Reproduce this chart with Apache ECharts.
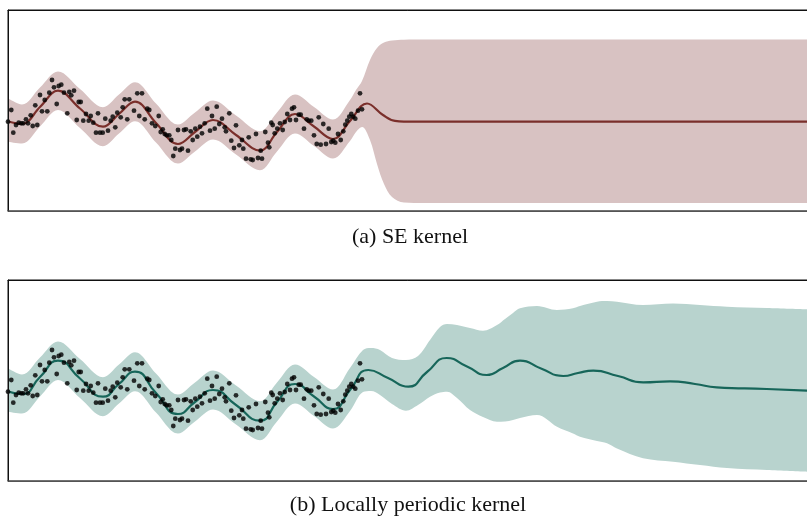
<!DOCTYPE html>
<html><head><meta charset="utf-8">
<script src="https://cdn.jsdelivr.net/npm/echarts@6/dist/echarts.min.js"></script>
<style>html,body{margin:0;padding:0;background:#fff}#c{width:807px;height:517px}</style>
</head><body><div id="c"></div>
<script>
// Observations (shared by both panels)
const dotX = [0.0,0.41,0.66,1.0,1.34,1.66,1.91,2.25,2.5,2.84,
 3.09,3.41,3.66,4.0,4.25,4.59,4.91,5.16,5.5,5.75,
 6.09,6.34,6.66,7.0,7.41,7.66,7.91,8.25,8.59,8.84,
 9.09,9.41,9.75,10.09,10.34,10.66,
 11.0,11.25,11.5,11.84,12.16,12.5,12.84,13.09,13.41,13.66,
 14.09,14.34,14.59,14.91,15.16,15.75,16.16,16.41,16.75,17.09,
 17.41,17.66,18.0,18.41,18.84,19.09,19.34,19.59,19.84,20.16,
 20.41,20.66,20.91,21.25,21.5,21.75,22.0,22.25,22.5,22.84,
 23.09,23.41,23.66,24.0,24.25,24.59,24.91,25.25,25.5,25.84,
 26.09,26.41,26.75,27.09,27.25,27.66,27.91,28.25,28.5,28.91,
 29.25,29.41,29.75,30.09,30.34,30.59,31.0,31.25,31.59,31.75,
 32.16,32.5,32.66,32.91,33.09,33.34,33.66,34.0,34.34,34.59,
 34.91,35.25,35.5,35.75,36.0,36.34,36.59,37.0,37.34,37.59,
 37.91,38.25,38.59,38.84,39.09,39.41,39.75,40.09,40.41,40.66,
 40.91,41.25,41.59,41.91,42.16,42.41,42.66,42.91,43.16,43.41,
 43.75,44.0,44.25];
const dotY = [-1.12,0.05,-2.22,-1.45,-1.22,-1.28,-1.28,-0.88,-1.28,-0.48,
 -1.55,0.52,-1.45,1.55,-0.08,1.05,-0.08,1.78,3.05,2.32,
 0.65,2.45,2.58,1.78,-0.28,1.85,1.52,1.98,-0.95,0.85,
 0.85,-1.02,-0.35,-1.02,-0.55,-1.22,
 -2.22,-0.28,-2.22,-2.22,-0.82,-2.02,-1.02,-0.62,-1.68,-0.22,
 -0.68,0.32,1.12,-0.88,1.12,-0.02,1.72,-0.55,1.72,-0.88,
 0.18,0.05,-1.28,-1.55,-0.55,-2.15,-1.88,-2.35,-2.48,-2.48,
 -2.95,-4.55,-3.82,-1.95,-3.95,-3.82,-1.95,-1.88,-4.02,-2.08,
 -2.95,-1.82,-2.62,-1.62,-2.28,-1.28,0.18,-2.02,-0.55,-1.82,
 0.38,-1.35,-0.82,-1.68,-2.08,-0.28,-3.02,-3.75,-1.48,-3.48,
 -2.95,-3.82,-4.82,-2.68,-4.88,-4.95,-2.35,-4.75,-4.02,-4.82,
 -2.15,-3.22,-3.68,-1.22,-1.45,-2.28,-1.82,-1.28,-1.95,-1.15,
 -0.35,-0.95,0.18,0.32,-0.95,-0.42,-0.42,-1.82,-0.88,-1.02,
 -1.02,-2.48,-3.35,-0.68,-3.42,-1.35,-3.35,-1.82,-3.15,-3.02,
 -3.22,-2.35,-2.95,-2.08,-1.42,-1.02,-0.62,-0.35,-0.62,-0.82,
 -0.02,1.72,0.12];

// Posterior mean, panel (a) SE kernel
const meanAX = [0,1.75,4.0,6.25,9.0,11.875,13.875,15.875,18.5,21.25,23.375,25.625,28.5,31.5,33.625,35.875,38.25,40.625,42.75,44.875,46.875,48.375,50.875,53.75,100];
const meanAY = [-1.1,-1.35,0.35,1.98,0.2,-1.62,-0.35,0.88,-1.25,-3.35,-2.15,-0.95,-2.45,-4.02,-2.15,-0.35,-1.6,-2.85,-1.05,0.7,-0.45,-1.03,-1.12,-1.12,-1.12];

// Posterior mean, panel (b) locally periodic kernel
const meanBX = [0,1.75,4.0,6.25,9.0,11.875,13.875,15.875,18.5,21.25,23.375,25.625,28.5,31.5,33.625,35.875,38.25,40.625,
 42.75,45.04,47.5,50.04,52.375,54.84,57.375,59.84,61.875,64.0,66.625,69.41,71.25,73.16,76.25,79.41,82.75,85.875,88.59,94.84,100];
const meanBY = [-1.1,-1.35,0.35,1.98,0.2,-1.62,-0.35,0.88,-1.25,-3.35,-2.15,-0.95,-2.45,-4.02,-2.15,-0.35,-1.6,-2.85,
 -0.95,1.05,0.25,-0.62,0.85,2.25,1.4,0.55,1.25,1.98,1.2,0.45,0.75,0.98,0.45,-0.18,-0.08,-0.35,-0.68,-0.85,-1.02];

// Confidence band inside the observed range (both panels)
const bandDataX  = [0,1.75,4.0,6.25,9.0,11.875,13.875,15.875,18.5,21.25,23.375,25.625,28.5,31.5,33.625,35.875,38.25,40.625];
const bandDataLo = [-3.12,-3.3,-1.6,0.05,-1.75,-3.57,-2.3,-1.07,-3.2,-5.3,-4.1,-2.9,-4.4,-5.97,-4.1,-2.3,-3.55,-4.8];
const bandDataHi = [1.22,0.6,2.3,3.9,2.15,0.33,1.6,2.83,0.7,-1.4,-0.2,1.0,-0.5,-2.07,-0.2,1.6,0.35,-0.9];

// Band beyond the data, panel (a)
const bandAExtX  = [42.75,43.5,44.25,45.25,46.125,47,48,49.5,52,100];
const bandAExtLo = [-3.05,-2.15,-1.65,-2.95,-5.35,-7.35,-8.65,-9.2,-9.25,-9.25];
const bandAExtHi = [1.05,2.05,2.95,5.05,6.25,6.8,7.0,7.08,7.1,7.1];

// Band beyond the data, panel (b)
const bandBExtX  = [42.75,44.375,45.375,46.5,48,49.75,51.25,52.75,54,54.875,56.125,57.75,59.375,61.125,62.125,63.125,64,66.125,68.625,70.625,71.5,73.625,74.875,76.125,79.375,83.125,86.5,89.875,94.875,100];
const bandBExtHi = [1.25,3.05,3.25,3.05,2.25,2.05,2.45,4.05,5.35,5.65,5.55,5.25,4.98,5.55,6.15,6.75,7.22,7.45,7.05,7.22,7.45,7.88,7.95,7.88,7.55,7.7,7.55,7.38,7.25,7.12];
const bandBExtLo = [-3.05,-1.15,-1.05,-1.45,-2.35,-3.02,-2.45,-1.62,-1.2,-1.12,-1.75,-2.95,-3.65,-4.12,-4.1,-3.95,-3.75,-3.45,-4.62,-5.3,-5.62,-6.05,-6.28,-6.8,-7.78,-8.12,-8.45,-8.75,-8.95,-9.12];

const captions = ['(a) SE kernel', '(b) Locally periodic kernel'];

const COLORS = {
  a: {band:'#d8c2c2', line:'#7a2f2b'},
  b: {band:'#b8d3ce', line:'#17665a'}
};

function pairs(xs, ys){ return xs.map((x,i)=>[x, ys[i]]); }
// band = upper edge filled down to the axis bottom, then lower edge filled white on top of it
function bandSeries(xs, lo, hi, xi, yi, color){
  return [
    {type:'line', xAxisIndex:xi, yAxisIndex:yi, data:pairs(xs, hi), symbol:'none', smooth:0.35,
     lineStyle:{width:0, opacity:0}, areaStyle:{color:color, opacity:1, origin:'start'}, silent:true, z:1},
    {type:'line', xAxisIndex:xi, yAxisIndex:yi, data:pairs(xs, lo), symbol:'none', smooth:0.35,
     lineStyle:{width:0, opacity:0}, areaStyle:{color:'#ffffff', opacity:1, origin:'start'}, silent:true, z:1.5}
  ];
}
function meanSeries(xs, ys, xi, yi, color, sm){
  return {type:'line', xAxisIndex:xi, yAxisIndex:yi, data:pairs(xs, ys), symbol:'none', smooth:sm,
    lineStyle:{color:color, width:2.2}, silent:true, z:2};
}
function dotSeries(xi, yi){
  return {type:'scatter', xAxisIndex:xi, yAxisIndex:yi, data:pairs(dotX, dotY), symbolSize:4.8,
    itemStyle:{color:'#000'}, silent:true, z:3};
}

const bandAX = bandDataX.concat(bandAExtX), bandALo = bandDataLo.concat(bandAExtLo), bandAHi = bandDataHi.concat(bandAExtHi);
const bandBX = bandDataX.concat(bandBExtX), bandBLo = bandDataLo.concat(bandBExtLo), bandBHi = bandDataHi.concat(bandBExtHi);

// the frame's right edge lies just outside the 807px canvas, as in the reference crop
const gridBase = {left:8, width:804, height:201, show:true, borderColor:'#111', borderWidth:1,
  containLabel:false, outerBoundsMode:'none'};
const frameLine = (c, w) => ({show:true, onZero:false, lineStyle:{color:c, width:w}});
const hidden = {axisTick:{show:false}, axisLabel:{show:false}, splitLine:{show:false}};
const axX = (g, pos, c, w) => Object.assign({type:'value', gridIndex:g, min:0, max:100.5, position:pos, z:10, axisLine:frameLine(c, w)}, hidden);
const axY = g => Object.assign({type:'value', gridIndex:g, min:-10.05, max:10.05, position:'left', z:10, axisLine:frameLine('#111', 1)}, hidden);

const chart = echarts.init(document.getElementById('c'), null, {renderer:'canvas'});
chart.setOption({
  animation:false,
  backgroundColor:'#fff',
  grid:[Object.assign({top:10}, gridBase), Object.assign({top:280}, gridBase)],
  xAxis:[axX(0,'bottom','#444',1.5), axX(0,'top','#111',1), axX(1,'bottom','#444',1.5), axX(1,'top','#111',1)],
  yAxis:[axY(0), axY(1)],
  series:[
    ...bandSeries(bandAX, bandALo, bandAHi, 0, 0, COLORS.a.band),
    meanSeries(meanAX, meanAY, 0, 0, COLORS.a.line, 0.4),
    dotSeries(0, 0),
    ...bandSeries(bandBX, bandBLo, bandBHi, 2, 1, COLORS.b.band),
    meanSeries(meanBX, meanBY, 2, 1, COLORS.b.line, 0.55),
    dotSeries(2, 1)
  ],
  graphic:[
    {type:'text', x:410, y:237, style:{text:captions[0], font:'22px "Liberation Serif"', fill:'#111', align:'center', verticalAlign:'middle'}},
    {type:'text', x:408, y:505, style:{text:captions[1], font:'22px "Liberation Serif"', fill:'#111', align:'center', verticalAlign:'middle'}}
  ]
});
</script></body></html>
